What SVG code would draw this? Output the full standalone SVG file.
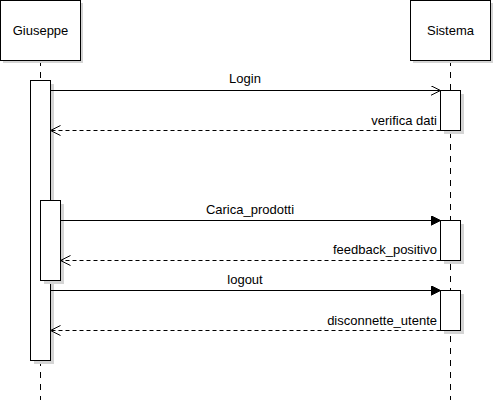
<svg xmlns="http://www.w3.org/2000/svg" width="495" height="405" viewBox="0 0 495 405">
<style>
.box{fill:#fff;stroke:#000;stroke-width:1}
.sh{fill:#d4d4d4}
.life{stroke:#000;stroke-dasharray:6,6;fill:none}
.msg{stroke:#000;fill:none}
.ret{stroke:#000;fill:none;stroke-dasharray:4,3}
text{font-family:"Liberation Sans",Arial,sans-serif;font-size:13px;fill:#000}
</style>
<defs>
<marker id="open" markerWidth="12" markerHeight="12" refX="10" refY="5" orient="auto" markerUnits="userSpaceOnUse">
<path d="M0,0 L10,5 L0,10" fill="none" stroke="#000"/>
</marker>
<marker id="fill" markerWidth="12" markerHeight="12" refX="10" refY="5" orient="auto" markerUnits="userSpaceOnUse">
<path d="M0,0 L10,5 L0,10 Z" fill="#000" stroke="#000"/>
</marker>
</defs>
<g id="lifelines">
<line class="life" x1="40.5" y1="60" x2="40.5" y2="400"/>
<line class="life" x1="450.5" y1="60" x2="450.5" y2="400"/>
</g>
<g id="Giuseppe">
<rect class="sh" x="3" y="3" width="80" height="60"/>
<rect class="box" x="0.5" y="0.5" width="80" height="60"/>
<text x="40.5" y="35" text-anchor="middle">Giuseppe</text>
</g>
<g id="Sistema">
<rect class="sh" x="413" y="3" width="80" height="60"/>
<rect class="box" x="410.5" y="0.5" width="80" height="60"/>
<text x="450.5" y="35" text-anchor="middle">Sistema</text>
</g>
<g id="activations">
<rect class="sh" x="34" y="84" width="20" height="280"/>
<rect class="box" x="30.5" y="80.5" width="20" height="280"/>
<rect class="sh" x="44" y="204" width="20" height="80"/>
<rect class="box" x="40.5" y="200.5" width="20" height="80"/>
<rect class="sh" x="444" y="94" width="20" height="40"/>
<rect class="box" x="440.5" y="90.5" width="20" height="40"/>
<rect class="sh" x="444" y="224" width="20" height="40"/>
<rect class="box" x="440.5" y="220.5" width="20" height="40"/>
<rect class="sh" x="444" y="294" width="20" height="40"/>
<rect class="box" x="440.5" y="290.5" width="20" height="40"/>
</g>
<g id="connectors">
<line class="msg" x1="50.5" y1="90.5" x2="440.5" y2="90.5" marker-end="url(#open)"/>
<line class="ret" x1="440.5" y1="130.5" x2="50.5" y2="130.5" marker-end="url(#open)"/>
<line class="msg" x1="60.5" y1="220.5" x2="440.5" y2="220.5" marker-end="url(#fill)"/>
<line class="ret" x1="440.5" y1="260.5" x2="60.5" y2="260.5" marker-end="url(#open)"/>
<line class="msg" x1="50.5" y1="290.5" x2="440.5" y2="290.5" marker-end="url(#fill)"/>
<line class="ret" x1="440.5" y1="330.5" x2="50.5" y2="330.5" marker-end="url(#open)"/>
<text x="245" y="83" text-anchor="middle">Login</text>
<text x="437" y="125" text-anchor="end">verifica dati</text>
<text x="250" y="214" text-anchor="middle">Carica_prodotti</text>
<text x="437" y="254" text-anchor="end">feedback_positivo</text>
<text x="245" y="284" text-anchor="middle">logout</text>
<text x="437" y="325" text-anchor="end">disconnette_utente</text>
</g>
</svg>
